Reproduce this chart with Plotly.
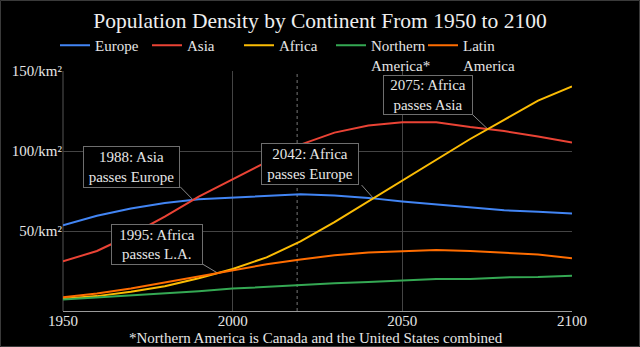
import plotly.graph_objects as go

years = [1950, 1960, 1970, 1980, 1990, 2000, 2010, 2020, 2030, 2040, 2050, 2060, 2070, 2080, 2090, 2100]
europe = [53.5, 59.5, 64.0, 67.5, 69.8, 70.8, 72.0, 73.0, 72.2, 70.7, 68.5, 66.8, 64.8, 63.0, 62.0, 61.0]
asia = [31.0, 37.5, 47.5, 59.0, 71.5, 82.5, 93.5, 104.0, 111.5, 116.0, 118.0, 118.0, 115.0, 112.5, 109.0, 105.3]
africa = [7.6, 9.3, 12.0, 15.5, 20.5, 26.3, 33.5, 43.5, 55.5, 68.5, 81.0, 94.0, 107.5, 119.5, 131.5, 140.3]
n_america = [7.2, 8.5, 9.7, 10.9, 12.3, 14.0, 15.2, 16.3, 17.3, 18.2, 19.0, 20.0, 20.0, 21.0, 21.2, 22.0]
latin_america = [8.6, 11.0, 14.0, 17.8, 21.5, 25.5, 29.2, 32.2, 34.8, 36.5, 37.3, 38.2, 37.5, 36.6, 35.3, 32.9]

series_names = ["Europe", "Asia", "Africa", "Northern<br>America*", "Latin<br>America"]
series_values = [europe, asia, africa, n_america, latin_america]
colors = ["#4285F4", "#EA4335", "#FBBC04", "#34A853", "#FF6D01"]

y_ticks = [50, 100, 150]
y_tick_labels = ["50/km²", "100/km²", "150/km²"]
x_ticks = [1950, 2000, 2050, 2100]

title = "Population Density by Continent From 1950 to 2100"
footnote = "*Northern America is Canada and the United States combined"

# callouts: (text, box centre year, box centre value, corner year, corner value, series a, series b)
callouts = [
    ("1988: Asia<br>passes Europe", 1970.2, 89.9, 1984.5, 77.7, asia, europe),
    ("2042: Africa<br>passes Europe", 2022.9, 92.0, 2038.0, 78.7, africa, europe),
    ("2075: Africa<br>passes Asia", 2057.7, 134.7, 2070.6, 122.9, africa, asia),
    ("1995: Africa<br>passes L.A.", 1977.6, 41.7, 1990.9, 29.6, africa, latin_america),
]
box_sizes = [(95, 40), (96, 40), (88, 38), (90, 39)]


def crossing(a, b):
    for i in range(len(years) - 1):
        d0 = a[i] - b[i]
        d1 = a[i + 1] - b[i + 1]
        if d0 < 0 <= d1:
            t = -d0 / (d1 - d0)
            x = years[i] + t * (years[i + 1] - years[i])
            y = a[i] + t * (a[i + 1] - a[i])
            return x, y
    return None


FONT = "Liberation Serif"
fig = go.Figure()
for name, vals, col in zip(series_names, series_values, colors):
    fig.add_trace(go.Scatter(x=years, y=vals, mode="lines", name=name,
                             line=dict(color=col, width=2)))

shapes = []
annotations = []
for (txt, bx, by, cx, cy, a, b), (w, h) in zip(callouts, box_sizes):
    px, py = crossing(a, b)
    shapes.append(dict(type="line", xref="x", yref="y", x0=cx, y0=cy, x1=px, y1=py,
                       line=dict(color="#8a8a8a", width=1), layer="below"))
    annotations.append(dict(x=bx, y=by, xref="x", yref="y", text=txt, showarrow=False,
                            width=w, height=h, bgcolor="#000000", bordercolor="#6e6e6e",
                            borderwidth=1, borderpad=0, align="center",
                            font=dict(family=FONT, size=15, color="#e6e6e6")))

# current-year dotted marker
shapes.append(dict(type="line", xref="x", yref="paper", x0=2019, x1=2019, y0=0, y1=1,
                   line=dict(color="#777777", width=1, dash="dot"), layer="below"))
# outer frame
L, R, T, B = 63, 68, 71, 36
PW, PH = 640 - L - R, 347 - T - B
shapes.append(dict(type="rect", xref="paper", yref="paper",
                   x0=(-L + 0.5) / PW, x1=(640 - L - 0.5) / PW,
                   y0=(-B + 0.5) / PH, y1=(347 - B - 0.5) / PH,
                   line=dict(color="#3a3a3a", width=1)))

annotations.append(dict(text=footnote, xref="paper", yref="paper", x=(316 - L) / PW,
                        y=-(338 - (347 - B)) / PH, xanchor="center", yanchor="middle",
                        showarrow=False, font=dict(family=FONT, size=15, color="#e6e6e6")))

fig.update_layout(
    width=640, height=347,
    margin=dict(l=L, r=R, t=T, b=B),
    paper_bgcolor="#000000", plot_bgcolor="#000000",
    font=dict(family=FONT, size=15, color="#e6e6e6"),
    title=dict(text=title, x=0.5, xanchor="center", y=1 - 20 / 347, yanchor="middle",
               font=dict(family=FONT, size=21.5, color="#eeeeee")),
    showlegend=True,
    legend=dict(orientation="h", x=(55 - L) / PW, xanchor="left", y=1 + (71 - 29) / PH,
                yanchor="top", valign="top", itemwidth=30, entrywidth=47,
                entrywidthmode="pixels", bgcolor="rgba(0,0,0,0)",
                font=dict(family=FONT, size=15, color="#e6e6e6"), tracegroupgap=0),
    xaxis=dict(range=[1950, 2100], tickvals=x_ticks, ticktext=[str(v) for v in x_ticks],
               showgrid=True, gridcolor="#444444", gridwidth=1, zeroline=False,
               showline=True, linecolor="#9a9a9a", linewidth=1, ticks="",
               ticklabelstandoff=-4,
               tickfont=dict(family=FONT, size=15, color="#e6e6e6")),
    yaxis=dict(range=[0, 150], tickvals=y_ticks, ticktext=y_tick_labels,
               showgrid=True, gridcolor="#444444", gridwidth=1, zeroline=False,
               showline=False, ticks="",
               tickfont=dict(family=FONT, size=15, color="#e6e6e6")),
    shapes=shapes,
    annotations=annotations,
)
# left axis line as a gray line
fig.add_shape(type="line", xref="paper", yref="paper", x0=0, x1=0, y0=0, y1=1,
              line=dict(color="#555555", width=1), layer="below")

fig.write_html("out.html")
